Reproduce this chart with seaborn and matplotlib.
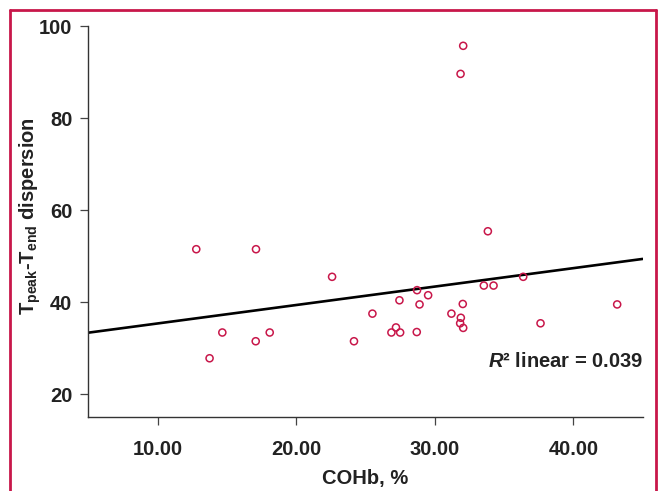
import matplotlib
matplotlib.use("Agg")
import matplotlib.pyplot as plt
from matplotlib.lines import Line2D
import seaborn as sns
import pandas as pd

# values
cohb = [12.79, 17.10, 14.67, 18.09, 17.08, 13.75, 22.59, 28.72, 29.52, 27.45,
        28.90, 25.50, 27.20, 26.87, 27.50, 28.70, 24.17, 36.38, 33.54, 34.24,
        32.02, 31.20, 31.88, 31.83, 32.05, 37.63, 32.05, 31.86, 33.83, 43.16]
tpe = [51.5, 51.5, 33.4, 33.4, 31.5, 27.8, 45.5, 42.6, 41.5, 40.4,
       39.5, 37.5, 34.5, 33.4, 33.4, 33.5, 31.5, 45.5, 43.6, 43.6,
       39.6, 37.5, 36.6, 35.4, 34.4, 35.4, 95.7, 89.6, 55.4, 39.5]
x_ticks = [10, 20, 30, 40]
y_ticks = [20, 40, 60, 80, 100]
r2_text = r"$\mathit{R}$² linear = 0.039"

CRIMSON = "#C8174A"

df = pd.DataFrame({"cohb": cohb, "tpe": tpe})

sns.set_style("ticks")
plt.rcParams["font.family"] = ["Liberation Sans", "DejaVu Sans"]
plt.rcParams["mathtext.fontset"] = "custom"
plt.rcParams["mathtext.rm"] = "Liberation Sans:bold"
plt.rcParams["mathtext.bf"] = "Liberation Sans:bold"
plt.rcParams["mathtext.it"] = "Liberation Sans:bold:italic"

fig = plt.figure(figsize=(6.58, 4.91), dpi=100)
ax = fig.add_axes([0.1342, 0.1513, 0.8425, 0.7957])
ax.set_xlim(5, 45)
ax.set_ylim(15.1, 100)

sns.scatterplot(data=df, x="cohb", y="tpe", ax=ax, marker="o", s=26,
                facecolors="none", edgecolor=CRIMSON, linewidth=1.1, zorder=3)
sns.regplot(data=df, x="cohb", y="tpe", ax=ax, scatter=False, ci=None,
            truncate=False, color="black", line_kws={"lw": 1.9})
ax.set_xlim(5, 45)
ax.set_ylim(15.1, 100)

ax.set_xticks(x_ticks)
ax.set_xticklabels([f"{v:.2f}" for v in x_ticks])
ax.set_yticks(y_ticks)
ax.tick_params(axis="both", width=0.9, color="#444444",
               labelsize=14.5, labelcolor="#222222")
ax.tick_params(axis="x", length=6, pad=11)
ax.tick_params(axis="y", length=5.5, pad=6)
for lab in ax.get_xticklabels() + ax.get_yticklabels():
    lab.set_fontweight("bold")
for s in ["left", "bottom"]:
    ax.spines[s].set_color("#333333")
    ax.spines[s].set_linewidth(1.0)
sns.despine(ax=ax)

ax.set_xlabel("COHb, %", fontsize=14.5, fontweight="bold", color="#222222", labelpad=7)
ax.set_ylabel(r"$\mathrm{T}_{\mathrm{peak}}$-$\mathrm{T}_{\mathrm{end}}$ dispersion",
              fontsize=14.5, fontweight="bold", color="#222222")
ax.yaxis.set_label_coords(-0.081, 0.515)

ax.text(1.0, 0.141, r2_text, transform=ax.transAxes, ha="right", va="center",
        fontsize=14.5, fontweight="bold", color="#222222")

# crimson frame around the figure (open at the bottom)
W, H = 658.0, 491.0
fr = dict(color=CRIMSON, lw=2.0, transform=fig.transFigure, clip_on=False)
fig.add_artist(Line2D([10 / W, 10 / W], [0, 1 - 10 / H], **fr))
fig.add_artist(Line2D([10 / W, 656 / W], [1 - 10 / H, 1 - 10 / H], **fr))
fig.add_artist(Line2D([656 / W, 656 / W], [0, 1 - 10 / H], **fr))

fig.savefig("out.png", dpi=100)
